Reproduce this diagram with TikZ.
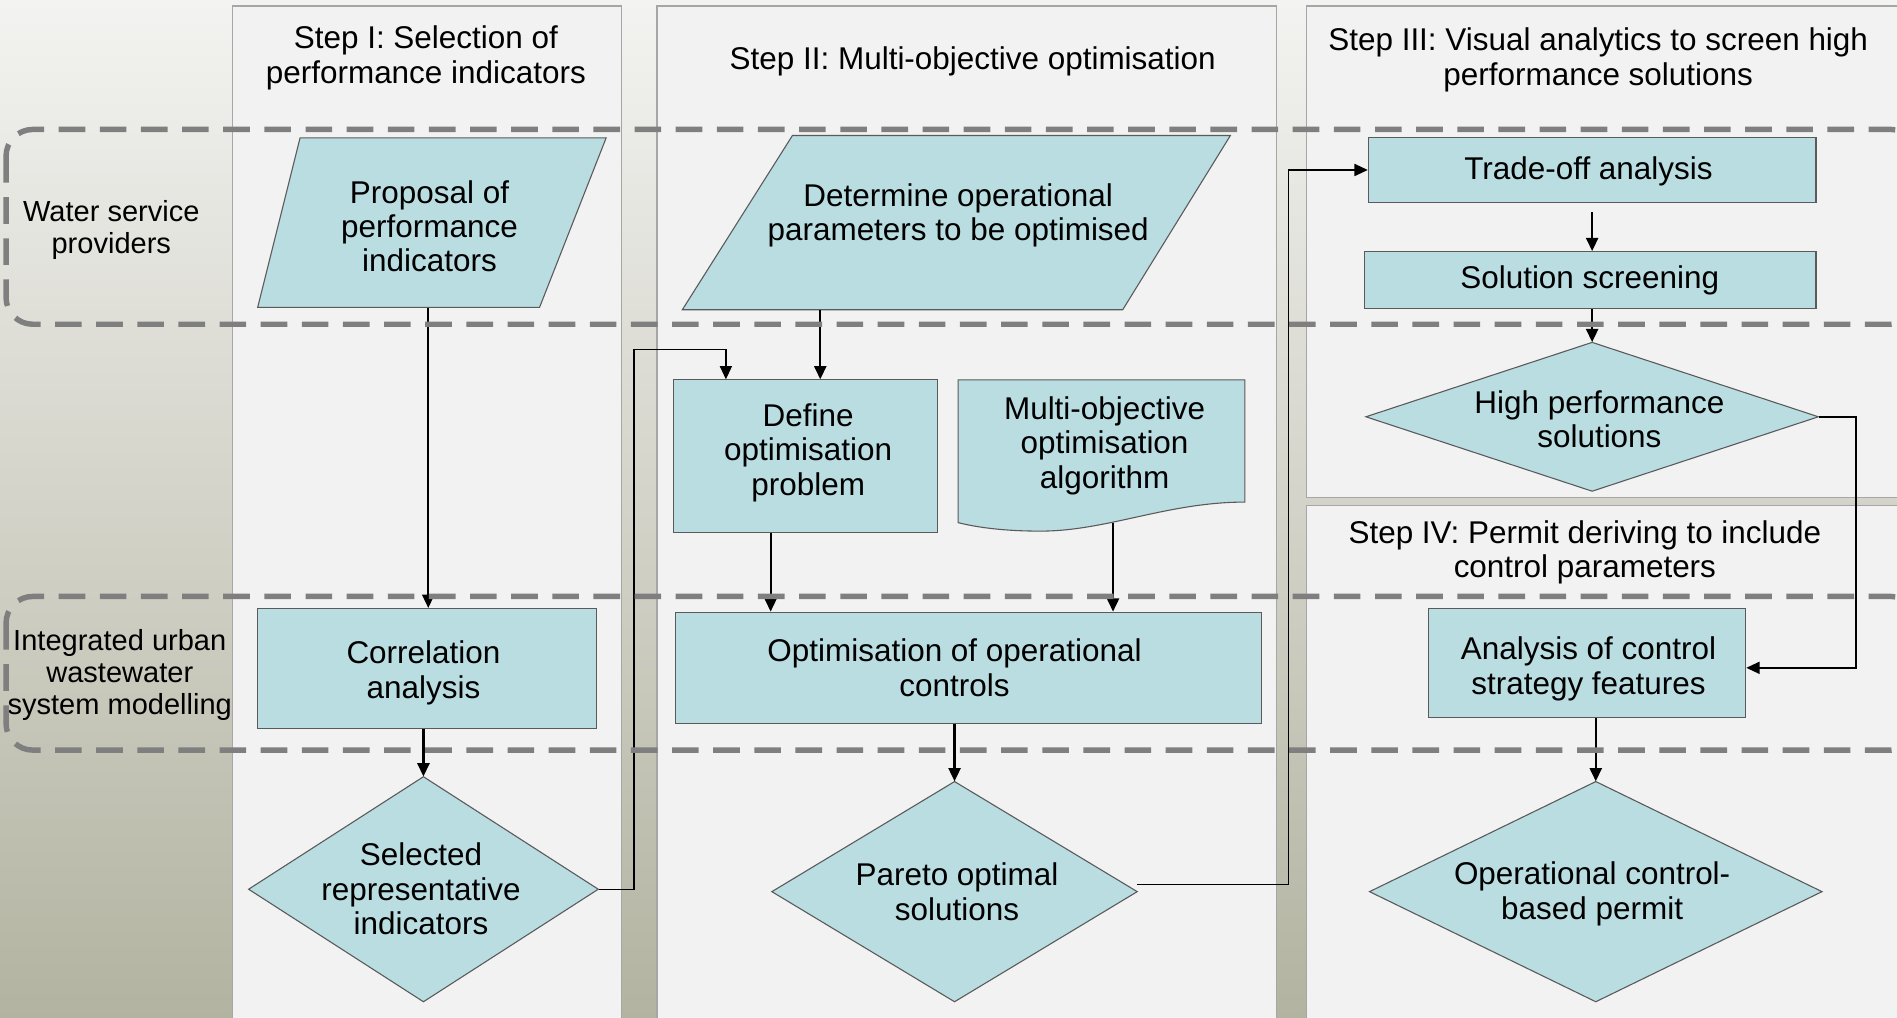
\documentclass[tikz,border=0pt]{standalone}
\usepackage{fontspec}
\setmainfont{Liberation Sans}
\usetikzlibrary{arrows.meta}
\definecolor{nodefill}{HTML}{B9DDE1}
\definecolor{nodeline}{HTML}{5A5A5A}
\definecolor{panelfill}{HTML}{F2F2F2}
\definecolor{panelline}{HTML}{A6A6A6}
\definecolor{lanecol}{HTML}{7F7F7F}
\definecolor{bgtop}{HTML}{F3F3F1}
\definecolor{bgbot}{HTML}{B3B3A1}
\newcommand\mynodefont{\fontsize{26}{28.5}\selectfont}
\newcommand\mylanefont{\fontsize{24}{26.5}\selectfont}
\tikzset{
 panel/.style={fill=panelfill, draw=panelline, line width=1pt},
 lane/.style={draw=lanecol, line width=4.5pt, dash pattern=on 22pt off 12pt, rounded corners=22pt},
 shapest/.style={fill=nodefill, draw=nodeline, line width=0.9pt},
 box/.style={shapest, rectangle, inner sep=0pt},
 frame/.style={rectangle, inner sep=0pt},
 txt/.style={align=center, inner sep=0pt, font=\mynodefont},
 lanelbl/.style={align=center, inner sep=0pt, font=\mylanefont},
 arr/.style={draw=black, line width=1.8pt, -{Triangle[length=11pt,width=10pt]}},
 elbow/.style={draw=black, line width=1.2pt, -{Triangle[length=11pt,width=10pt]}},
}
\newcommand\mydia[5]{%
 \filldraw[shapest] ({#2-#4/2},#3) -- (#2,{#3-#5/2}) -- ({#2+#4/2},#3) -- (#2,{#3+#5/2}) -- cycle;
 \node[frame, minimum width=#4pt, minimum height=#5pt] (#1) at (#2,#3) {};}
\begin{document}
\begin{tikzpicture}[x=1pt,y=-1pt]
\useasboundingbox (0,0) rectangle (1568,841);
\clip (0,0) rectangle (1568,841);
\shade[top color=bgtop, bottom color=bgbot] (0,0) rectangle (1568,841);
% panels
\path[panel] (192,5) rectangle (514,850);
\path[panel] (543,5) rectangle (1055,850);
\path[panel] (1080,5) rectangle (1580,411);
\path[panel] (1080,418) rectangle (1580,850);
% headers
\node[txt] (h1) at (352,48) {Step I: Selection of\\performance indicators};
\node[txt] (h2) at (804,51) {Step II: Multi-objective optimisation};
\node[txt] (h3) at (1321,49.5) {Step III: Visual analytics to screen high\\performance solutions};
\node[txt] (h4) at (1310,456.5) {Step IV: Permit deriving to include\\control parameters};
% lane labels
\node[lanelbl] (l1) at (92,190) {Water service\\providers};
\node[lanelbl] (l2) at (99,558) {Integrated urban\\wastewater\\system modelling};
% step I
\filldraw[shapest] (248,114) -- (501,114) -- (446,254) -- (213,254) -- cycle;
\node[frame, minimum width=253pt, minimum height=136pt] (prop) at (354,186) {};
\node[txt] (propT) at (355,187) {Proposal of\\performance\\indicators};
\node[box, minimum width=280pt, minimum height=99pt] (cor) at (353,552.5) {};
\node[txt] (corT) at (350,556) {Correlation\\analysis};
\mydia{sel}{350}{735}{289}{186}
\node[txt] (selT) at (348,735) {Selected\\representative\\indicators};
% step II
\filldraw[shapest] (655,112) -- (1017,112) -- (928,256) -- (564,256) -- cycle;
\node[frame, minimum width=362pt, minimum height=154pt] (det) at (792,179) {};
\node[txt] (detT) at (792,178) {Determine operational\\parameters to be optimised};
\node[box, minimum width=218pt, minimum height=126pt] (def) at (666,377) {};
\node[txt] (defT) at (668,374) {Define\\optimisation\\problem};
\filldraw[shapest] (792,314) -- (1029,314) -- (1029,415) .. controls (965,415) and (915,439) .. (860,439) .. controls (830,439) and (808,436) .. (792,432) -- cycle;
\node[txt] (mo) at (913,368.5) {Multi-objective\\optimisation\\algorithm};
\coordinate (moB) at (920,432);
\node[box, minimum width=485pt, minimum height=92pt] (opt) at (800.5,552) {};
\node[txt] (optT) at (789,552) {Optimisation of operational\\controls};
\mydia{par}{789}{737}{302}{182}
\node[txt] (parT) at (791,737) {Pareto optimal\\solutions};
% step III
\node[box, minimum width=370pt, minimum height=53pt] (tra) at (1316,140.5) {};
\node[txt] (traT) at (1313,142) {Trade-off analysis};
\node[box, minimum width=373pt, minimum height=47pt] (sol) at (1314.5,231.5) {};
\node[txt] (solT) at (1314,232) {Solution screening};
\mydia{hp}{1316}{344.5}{374}{123}
\node[txt] (hpT) at (1322,346.5) {High performance\\solutions};
% step IV
\node[box, minimum width=262pt, minimum height=90pt] (ana) at (1312,548) {};
\node[txt] (anaT) at (1313,553) {Analysis of control\\strategy features};
\mydia{perm}{1319}{737}{374}{182}
\node[txt] (permT) at (1316,739) {Operational control-\\based permit};
% connectors
\draw[arr] (prop.south) -- (prop.south |- cor.north);
\draw[arr] (sel.north |- cor.south) -- (sel.north);
\draw[elbow] (sel.east) -- (524,0 |- sel.east) -- (524,289) -| (600,0 |- def.north);
\draw[arr] (678,0 |- det.south) -- (678,0 |- def.north);
\draw[arr] (637,0 |- def.south) -- (637,0 |- opt.north);
\draw[arr] (moB) -- (moB |- opt.north);
\draw[arr] (par.north |- opt.south) -- (par.north);
\draw[elbow] ([yshift=6pt]par.east) -| (1065,0 |- tra.west) -- (tra.west);
\draw[arr] ([yshift=-8pt]tra.south) -- (tra.south |- sol.north);
\draw[arr] (hp.north |- sol.south) -- (hp.north);
\draw[elbow] (hp.east) -- (1534,0 |- hp.east) |- ([yshift=-4pt]ana.east);
\draw[arr] (perm.north |- ana.south) -- (perm.north);
% lanes
\draw[lane] (5,107) rectangle (1585,268);
\draw[lane] (5,493) rectangle (1585,620);
\end{tikzpicture}
\end{document}
